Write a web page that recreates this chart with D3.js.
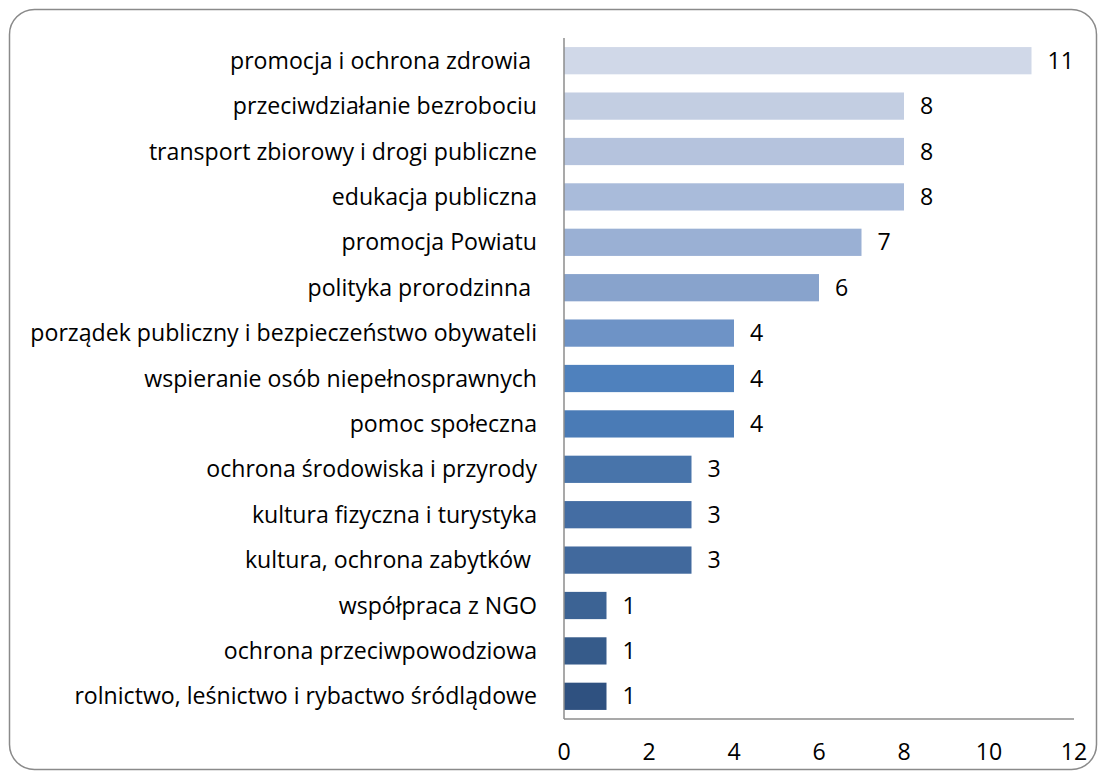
<!DOCTYPE html>
<html>
<head>
<meta charset="utf-8">
<script src="https://cdn.jsdelivr.net/npm/d3@7"></script>
<style>
  body { margin: 0; background: #fff; }
  text { font-family: "Open Sans", sans-serif; fill: #000; white-space: pre; }
</style>
</head>
<body>
<script>
// Chart data
var categories = [
  "promocja i ochrona zdrowia ",
  "przeciwdziałanie bezrobociu",
  "transport zbiorowy i drogi publiczne",
  "edukacja publiczna",
  "promocja Powiatu",
  "polityka prorodzinna ",
  "porządek publiczny i bezpieczeństwo obywateli",
  "wspieranie osób niepełnosprawnych",
  "pomoc społeczna",
  "ochrona środowiska i przyrody",
  "kultura fizyczna i turystyka",
  "kultura, ochrona zabytków ",
  "współpraca z NGO",
  "ochrona przeciwpowodziowa",
  "rolnictwo, leśnictwo i rybactwo śródlądowe"
];
var values = [11, 8, 8, 8, 7, 6, 4, 4, 4, 3, 3, 3, 1, 1, 1];
var barColors = [
  "#D0D8E8", "#C3CEE2", "#B5C3DD", "#A9BBDA", "#9AB0D4",
  "#88A3CC", "#6E93C6", "#4F81BD", "#4A7BB6", "#4874AA",
  "#446DA3", "#41699D", "#3C6394", "#365B8A", "#2F5180"
];
var xTicks = [0, 2, 4, 6, 8, 10, 12];

// SVG area
var svgWidth = 1106;
var svgHeight = 778;

var plot = { left: 564, right: 1074, top: 38, bottom: 719 };

var svg = d3.select("body")
  .append("svg")
  .attr("width", svgWidth)
  .attr("height", svgHeight);

// rounded frame
svg.append("rect")
  .attr("x", 9.5)
  .attr("y", 9.5)
  .attr("width", 1087)
  .attr("height", 760)
  .attr("rx", 25)
  .attr("ry", 25)
  .attr("fill", "#fff")
  .attr("stroke", "#8a8a8a")
  .attr("stroke-width", 1.5);

var xScale = d3.scaleLinear()
  .domain([0, 12])
  .range([plot.left, plot.right]);

var yScale = d3.scaleBand()
  .domain(categories)
  .range([plot.top, plot.bottom])
  .paddingInner(0.4)
  .paddingOuter(0.2);

// bars
svg.selectAll(".bar")
  .data(values)
  .enter()
  .append("rect")
  .attr("class", "bar")
  .attr("x", xScale(0))
  .attr("y", (d, i) => yScale(categories[i]))
  .attr("width", d => xScale(d) - xScale(0))
  .attr("height", yScale.bandwidth())
  .attr("fill", (d, i) => barColors[i]);

// category labels
var fontSize = 18;
var catLabels = svg.selectAll(".cat")
  .data(categories)
  .enter()
  .append("text")
  .attr("class", "cat")
  .attr("x", 537)
  .attr("y", d => yScale(d) + yScale.bandwidth() / 2)
  .attr("dy", "0.35em")
  .attr("text-anchor", "end")
  .style("font-size", fontSize + "px")
  .text(d => d);

// fit the longest label to the width it has in the original
var longest = d3.max(catLabels.nodes(), n => n.getComputedTextLength());
fontSize = fontSize * 507 / longest;
catLabels.style("font-size", fontSize + "px");

// value labels
svg.selectAll(".val")
  .data(values)
  .enter()
  .append("text")
  .attr("class", "val")
  .attr("x", d => xScale(d) + 16)
  .attr("y", (d, i) => yScale(categories[i]) + yScale.bandwidth() / 2)
  .attr("dy", "0.35em")
  .style("font-size", fontSize + "px")
  .text(d => d);

// axes lines
svg.append("line")
  .attr("x1", plot.left).attr("x2", plot.left)
  .attr("y1", plot.top).attr("y2", plot.bottom)
  .attr("stroke", "#8c8c8c")
  .attr("stroke-width", 1.5);

svg.append("line")
  .attr("x1", plot.left).attr("x2", plot.right)
  .attr("y1", plot.bottom).attr("y2", plot.bottom)
  .attr("stroke", "#8c8c8c")
  .attr("stroke-width", 1.5);

// x tick labels
svg.selectAll(".xtick")
  .data(xTicks)
  .enter()
  .append("text")
  .attr("class", "xtick")
  .attr("x", d => xScale(d))
  .attr("y", 752)
  .attr("dy", "0.35em")
  .attr("text-anchor", "middle")
  .style("font-size", fontSize + "px")
  .text(d => d);
</script>
</body>
</html>
